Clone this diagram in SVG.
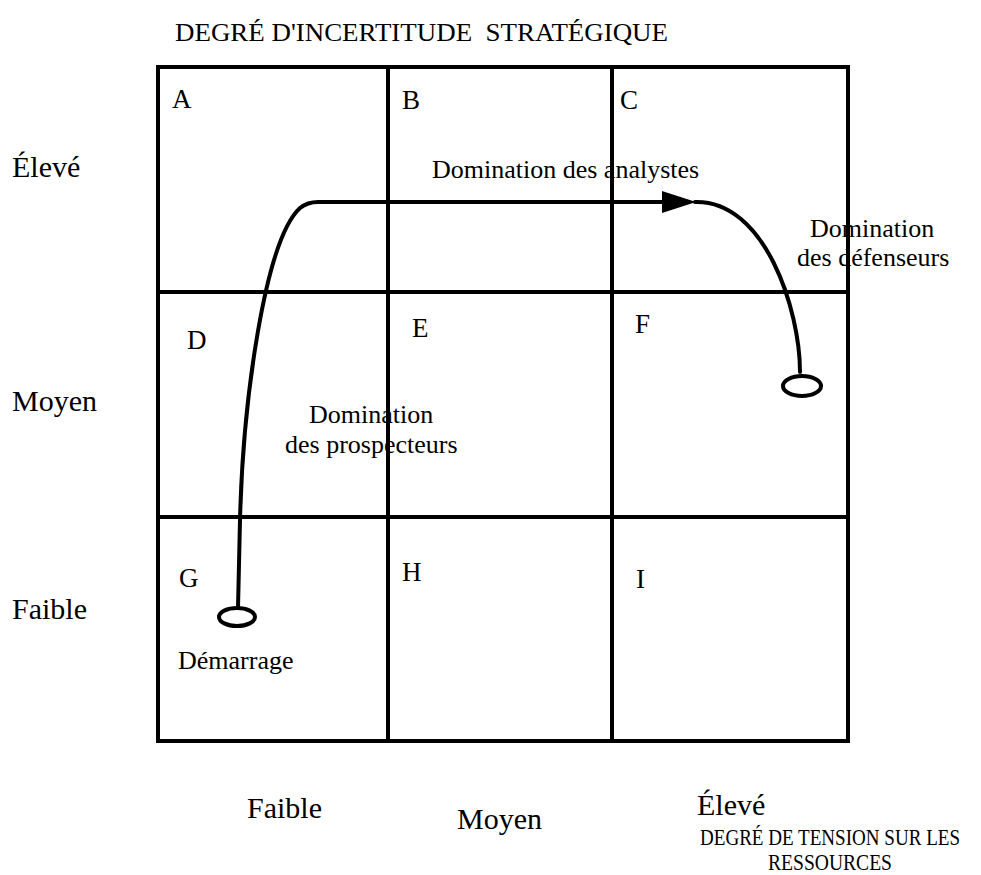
<svg xmlns="http://www.w3.org/2000/svg" width="981" height="875" viewBox="0 0 981 875">
<style>
text{font-family:"Liberation Serif","Times New Roman",serif;fill:#000}
.cell{font-size:27px}
.lab{font-size:30px}
.ann{font-size:26px}
.grid{stroke:#000;stroke-width:4;fill:none}
.path{stroke:#000;stroke-width:4;fill:none;stroke-linecap:round}
</style>
<rect width="981" height="875" fill="#fff"/>
<text x="175" y="41" font-size="25" textLength="493" lengthAdjust="spacingAndGlyphs" xml:space="preserve">DEGRÉ D'INCERTITUDE  STRATÉGIQUE</text>
<g id="grid">
<rect class="grid" x="158" y="67" width="690" height="674"/>
<line class="grid" x1="388" y1="67" x2="388" y2="741"/>
<line class="grid" x1="612" y1="67" x2="612" y2="741"/>
<line class="grid" x1="158" y1="292" x2="848" y2="292"/>
<line class="grid" x1="158" y1="517" x2="848" y2="517"/>
</g>
<g id="cells">
<text class="cell" x="172" y="108">A</text>
<text class="cell" x="402" y="109">B</text>
<text class="cell" x="620" y="109">C</text>
<text class="cell" x="187" y="349">D</text>
<text class="cell" x="412" y="337">E</text>
<text class="cell" x="635" y="333">F</text>
<text class="cell" x="179" y="587">G</text>
<text class="cell" x="402" y="581">H</text>
<text class="cell" x="636" y="588">I</text>
</g>
<g id="axes">
<text class="lab" x="12" y="177">Élevé</text>
<text class="lab" x="12" y="411">Moyen</text>
<text class="lab" x="12" y="619">Faible</text>
<text class="lab" x="247" y="818">Faible</text>
<text class="lab" x="457" y="829">Moyen</text>
<text class="lab" x="697" y="815">Élevé</text>
<text x="700" y="845" font-size="24" textLength="260" lengthAdjust="spacingAndGlyphs">DEGRÉ DE TENSION SUR LES</text>
<text x="768" y="870" font-size="24" textLength="124" lengthAdjust="spacingAndGlyphs">RESSOURCES</text>
</g>
<g id="connectors">
<path class="path" d="M238,608 L240,520 C243,400 265,240 300,208 C305,204 310,202 318,202 L665,202"/>
<path d="M662,191 L696,202 L662,213 Z" fill="#000"/>
<path class="path" d="M695,202 C765,200 800,310 800,372"/>
</g>
<g id="start">
<ellipse cx="237" cy="617" rx="18" ry="9" fill="#fff" stroke="#000" stroke-width="4"/>
<text class="ann" x="178" y="669">Démarrage</text>
</g>
<g id="end">
<ellipse cx="802" cy="386" rx="19" ry="10" fill="#fff" stroke="#000" stroke-width="4"/>
</g>
<g id="labels">
<text class="ann" x="432" y="178">Domination des analystes</text>
<text class="ann" x="810" y="237">Domination</text>
<text class="ann" x="797" y="266">des défenseurs</text>
<text class="ann" x="309" y="423">Domination</text>
<text class="ann" x="285" y="453">des prospecteurs</text>
</g>
</svg>
